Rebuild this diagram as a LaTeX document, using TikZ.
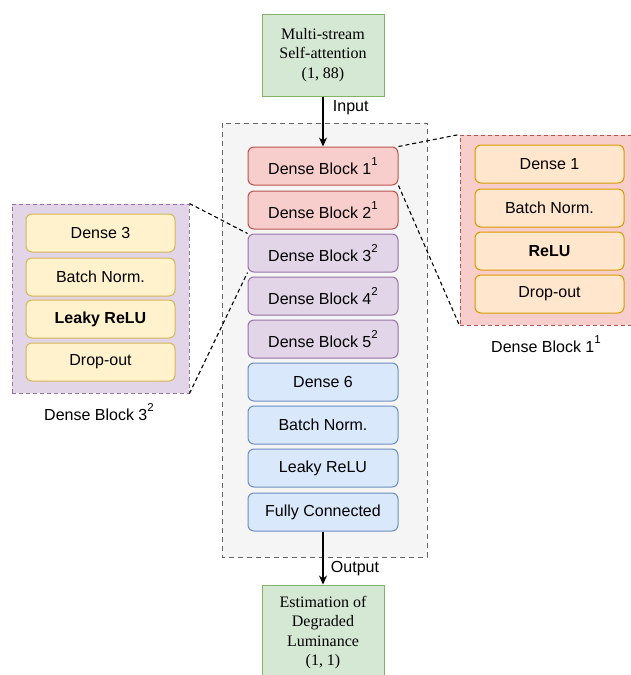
\documentclass[tikz,border=0pt]{standalone}
\usepackage{fontspec}
\setmainfont{Liberation Sans}
\newfontfamily\timesfont{Liberation Serif}
\usetikzlibrary{arrows.meta}

\definecolor{redfill}{HTML}{F8CECC}
\definecolor{redline}{HTML}{B85450}
\definecolor{purplefill}{HTML}{E1D5E7}
\definecolor{purpleline}{HTML}{9673A6}
\definecolor{bluefill}{HTML}{DAE8FC}
\definecolor{blueline}{HTML}{6C8EBF}
\definecolor{greenfill}{HTML}{D5E8D4}
\definecolor{greenline}{HTML}{82B366}
\definecolor{yellowfill}{HTML}{FFF2CC}
\definecolor{yellowline}{HTML}{D6B656}
\definecolor{orangefill}{HTML}{FFE6CC}
\definecolor{orangeline}{HTML}{D79B00}
\definecolor{grayfill}{HTML}{F5F5F5}
\definecolor{grayline}{HTML}{666666}

\newcommand{\upidx}[1]{\raisebox{0.6em}{\fontsize{11.5}{11.5}\selectfont #1}}

\tikzset{
  block/.style={draw, rounded corners=6pt, minimum width=150pt, minimum height=38pt,
    inner sep=0pt, line width=1pt, font=\fontsize{16}{18}\selectfont},
  redblock/.style={block, fill=redfill, draw=redline},
  purpleblock/.style={block, fill=purplefill, draw=purpleline},
  blueblock/.style={block, fill=bluefill, draw=blueline},
  yellowblock/.style={block, fill=yellowfill, draw=yellowline},
  orangeblock/.style={block, fill=orangefill, draw=orangeline},
  iobox/.style={draw=greenline, fill=greenfill, line width=1pt, minimum width=122pt,
    inner sep=0pt, align=center, font=\timesfont\fontsize{16}{19.5}\selectfont},
  panel/.style={line width=1pt, dash pattern=on 4pt off 3pt, inner sep=0pt},
  zoomline/.style={line width=1.1pt, dash pattern=on 4pt off 3pt},
  flow/.style={line width=1.3pt, -{Stealth[length=9pt,width=8pt]}},
  lbl/.style={font=\fontsize{16}{18}\selectfont}
}

\begin{document}
\begin{tikzpicture}[x=1pt,y=-1pt]
  \useasboundingbox (0,0) rectangle (630,675);

  % main network
  \draw[fill=grayfill, draw=grayline, line width=1pt, dash pattern=on 5pt off 4pt]
    (222,123) rectangle (427,557);

  \node[iobox, minimum height=82pt] (msa) at (323,55)
    {Multi-stream\\Self-attention\\(1, 88)};

  \node[redblock] (db1) at (323,166) {Dense Block 1\upidx{1}};
  \node[redblock] (db2) at (323,210) {Dense Block 2\upidx{1}};
  \node[purpleblock] (db3) at (323,253) {Dense Block 3\upidx{2}};
  \node[purpleblock] (db4) at (323,296) {Dense Block 4\upidx{2}};
  \node[purpleblock] (db5) at (323,339) {Dense Block 5\upidx{2}};
  \node[blueblock] (d6) at (323,382) {Dense 6};
  \node[blueblock] (bn) at (323,425) {Batch Norm.};
  \node[blueblock] (lrelu) at (323,468) {Leaky ReLU};
  \node[blueblock] (fc) at (323,512) {Fully Connected};

  \node[iobox, minimum height=95pt] (est) at (323,632.5)
    {Estimation of\\Degraded\\Luminance\\(1, 1)};

  \draw[flow] (msa) -- (db1) node[lbl, pos=0.22, right=6pt] (inlbl) {Input};
  \draw[flow] (fc) -- (est) node[lbl, pos=0.7, right=4pt] (outlbl) {Output};

  % dense block 1 detail
  \node[panel, draw=redline, fill=redfill, minimum width=180pt, minimum height=190pt]
    (panelr) at (550,230) {};
  \node[orangeblock, minimum width=149pt] (r1) at (549.5,164) {Dense 1};
  \node[orangeblock, minimum width=149pt] (r2) at (549.5,208) {Batch Norm.};
  \node[orangeblock, minimum width=149pt] (r3) at (549.5,251) {\bfseries ReLU};
  \node[orangeblock, minimum width=149pt] (r4) at (549.5,294) {Drop-out};
  \node[lbl] (panelrlbl) at (546,344) {Dense Block 1\upidx{1}};

  % dense block 3 detail
  \node[panel, draw=purpleline, fill=purplefill, minimum width=177pt, minimum height=189pt]
    (panell) at (100.5,298.5) {};
  \node[yellowblock, minimum width=149pt] (l1) at (100.5,233) {Dense 3};
  \node[yellowblock, minimum width=149pt] (l2) at (100.5,277) {Batch Norm.};
  \node[yellowblock, minimum width=149pt] (l3) at (100.5,319) {\bfseries Leaky ReLU};
  \node[yellowblock, minimum width=149pt] (l4) at (100.5,362) {Drop-out};
  \node[lbl] (panelllbl) at (99,412) {Dense Block 3\upidx{2}};

  % zoom lines
  \draw[zoomline] (db1.north east) -- (panelr.north west);
  \draw[zoomline] (db1.south east) -- (panelr.south west);
  \draw[zoomline] (panell.north east) -- (db3.north west);
  \draw[zoomline] (panell.south east) -- (db3.south west);
\end{tikzpicture}
\end{document}
